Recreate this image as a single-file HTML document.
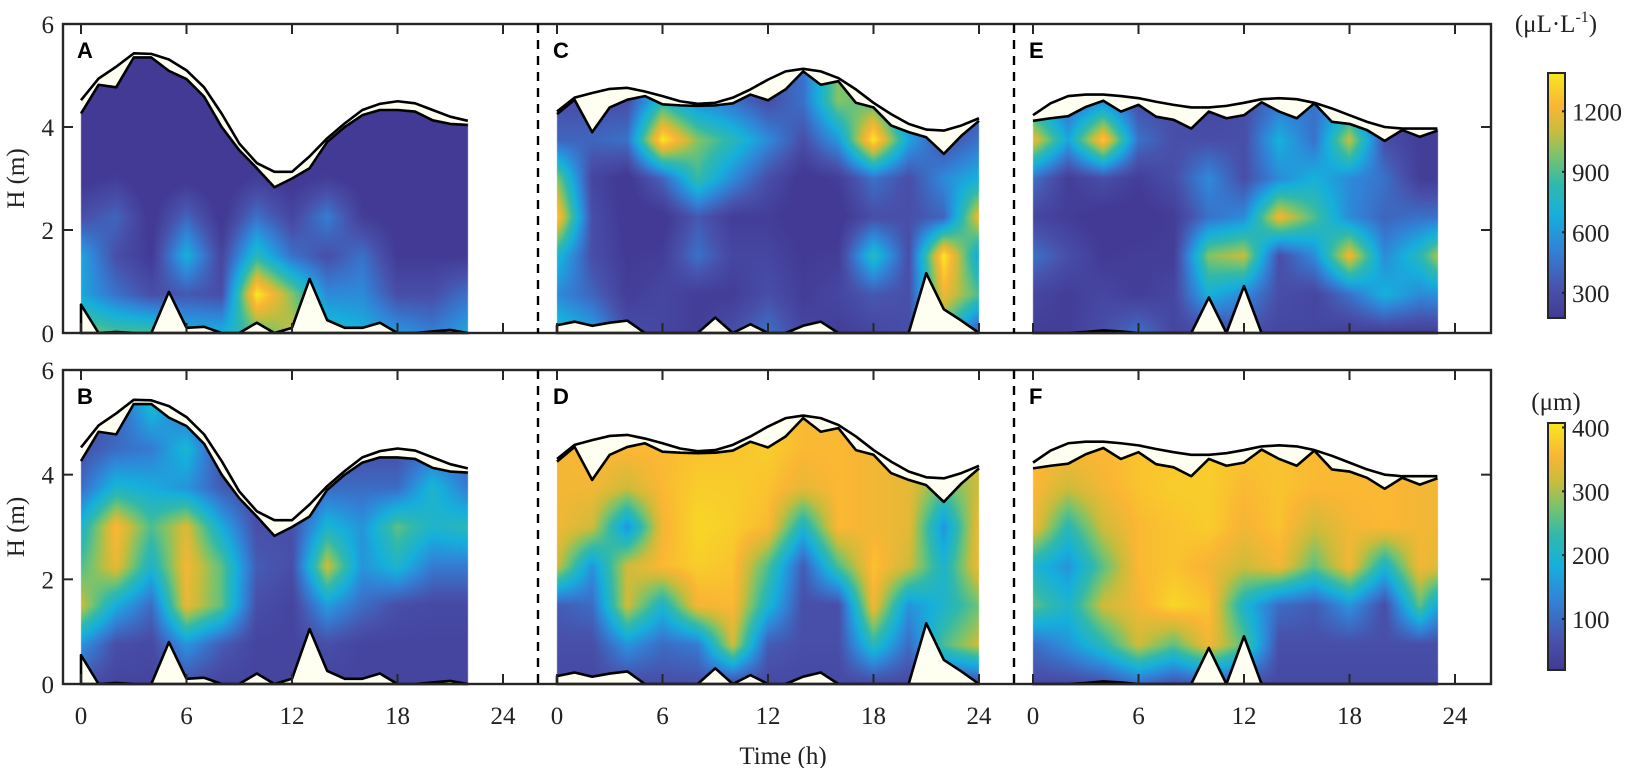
<!DOCTYPE html>
<html><head><meta charset="utf-8">
<style>
html,body{margin:0;padding:0;background:#fff;}
#wrap{position:relative;width:1627px;height:768px;overflow:hidden;}
canvas,svg{position:absolute;left:0;top:0;}
text{font-family:"Liberation Serif",serif;fill:#222;}
</style></head>
<body>
<div id="wrap">
<canvas id="heat" width="1627" height="768"></canvas>
<svg id="ov" width="1627" height="768" xmlns="http://www.w3.org/2000/svg"></svg>
</div>
<script>
// ---------- data ----------
const depthLevels = [0, 0.75, 1.5, 2.25, 3, 3.75, 4.5, 5.25];
const tickHours = [0, 6, 12, 18, 24];
const tickDepths = [0, 2, 4, 6];
const cbTicks1 = [300, 600, 900, 1200];
const cbTicks2 = [100, 200, 300, 400];

const tideA = [4.52,4.94,5.17,5.43,5.42,5.31,5.1,4.77,4.26,3.68,3.3,3.13,3.13,3.43,3.78,4.07,4.33,4.45,4.5,4.46,4.33,4.2,4.12];
const topA  = [4.26,4.82,4.77,5.35,5.35,5.09,4.93,4.59,4.0,3.55,3.2,2.83,3.0,3.2,3.71,4.0,4.23,4.33,4.33,4.3,4.13,4.06,4.04];
const bottomA = [0.55,0,0.02,0,0,0.8,0.1,0.12,0,0,0.2,0,0.1,1.05,0.25,0.1,0.1,0.2,0,0,0.03,0.06,0];

const tideC = [4.3,4.57,4.66,4.74,4.76,4.69,4.6,4.5,4.45,4.47,4.57,4.73,4.92,5.08,5.13,5.08,4.95,4.73,4.47,4.25,4.06,3.95,3.93,4.03,4.17];
const topC  = [4.25,4.53,3.9,4.38,4.53,4.6,4.44,4.42,4.41,4.42,4.46,4.63,4.52,4.73,5.08,4.82,4.89,4.47,4.38,4.03,3.9,3.8,3.48,3.83,4.12];
const bottomC = [0.15,0.22,0.14,0.2,0.24,0,0,0,0,0.3,0,0.17,0,0,0.14,0.22,0,0,0,0,0,1.16,0.46,0.24,0];

const tideE = [4.23,4.46,4.6,4.63,4.63,4.6,4.56,4.49,4.43,4.38,4.38,4.41,4.47,4.54,4.56,4.54,4.47,4.36,4.23,4.1,4.0,3.97,3.97,3.97];
const topE  = [4.12,4.17,4.21,4.39,4.51,4.3,4.43,4.2,4.14,3.97,4.3,4.17,4.23,4.48,4.3,4.17,4.46,4.1,4.06,3.94,3.73,3.94,3.81,3.93];
const bottomE = [0,0,0,0.02,0.05,0.03,0,0,0,0,0.69,0,0.91,0,0,0,0,0,0,0,0,0,0,0];

// concentration (uL/L), rows = depthLevels, cols = every 2 h
const valuesA = [
 [1000,900,900,700,700,900,1100,800,700,600,500,650],
 [650,450,300,350,300,1400,1000,550,550,300,300,450],
 [650,300,180,700,250,800,450,300,450,180,180,180],
 [300,400,150,400,150,450,250,500,200,150,150,150],
 [150,200,120,150,120,200,150,200,150,150,150,150],
 [120,130,120,120,120,130,120,120,120,120,120,120],
 [120,120,120,120,120,120,120,120,120,120,120,120],
 [120,120,120,120,120,120,120,120,120,120,120,120]];
const valuesC = [
 [800,650,300,250,200,300,450,250,200,250,300,900,300],
 [550,400,200,250,200,200,300,200,250,350,300,1200,900],
 [750,300,180,200,450,250,250,180,200,800,300,1400,650],
 [1300,300,150,150,350,200,200,150,150,300,300,400,1200],
 [1000,250,150,400,850,550,300,150,200,450,300,550,700],
 [400,400,450,1400,1000,800,550,300,600,1400,650,300,450],
 [300,300,300,800,550,450,300,450,1000,900,450,300,300],
 [300,300,300,800,550,450,300,450,1000,900,450,300,300]];
const valuesE = [
 [200,200,300,450,250,250,300,250,250,200,200,200,200],
 [250,200,250,200,250,700,550,300,250,450,700,550,600],
 [450,300,180,200,200,1000,1100,300,550,1200,550,800,1300],
 [250,200,150,150,200,450,550,1200,900,550,400,450,450],
 [450,200,300,200,300,550,300,550,700,550,450,200,200],
 [1200,650,1300,450,300,300,300,700,450,1100,300,200,200],
 [650,400,550,300,300,250,300,450,450,550,300,200,200],
 [650,400,550,300,300,250,300,450,450,550,300,200,200]];
// particle size (um)
const valuesB = [
 [60,40,40,60,40,40,40,40,40,40,40,40],
 [150,60,50,150,80,40,40,60,40,40,40,40],
 [320,180,100,340,260,60,40,160,100,60,50,50],
 [250,340,200,350,260,80,60,320,150,200,120,120],
 [200,360,250,330,180,60,60,200,150,260,200,220],
 [100,200,180,150,80,50,50,100,100,100,200,120],
 [60,100,120,200,60,50,50,50,60,60,100,80],
 [50,80,200,100,50,50,50,50,50,50,50,50]];
const valuesD = [
 [50,50,50,60,60,50,50,50,50,50,50,50,50],
 [60,60,150,100,120,320,80,60,60,220,100,250,320],
 [80,100,320,200,350,360,200,60,60,350,150,200,270],
 [320,150,320,360,380,370,250,80,250,370,320,200,350],
 [350,320,150,350,390,380,360,200,360,350,340,150,350],
 [350,350,320,360,380,380,370,340,360,350,340,260,320],
 [350,360,360,360,370,370,380,360,360,350,340,320,320],
 [350,360,360,360,370,370,380,360,360,350,340,320,320]];
const valuesF = [
 [50,50,60,100,60,80,60,50,50,50,50,50,50],
 [100,150,220,320,260,350,260,60,60,60,60,60,60],
 [260,200,320,350,390,370,200,100,80,150,60,260,80],
 [200,150,260,360,370,350,320,350,260,350,200,350,320],
 [350,220,320,360,370,380,350,370,320,350,360,350,350],
 [360,320,350,370,380,380,360,370,360,360,360,350,350],
 [360,360,360,370,370,380,370,370,360,360,360,350,350],
 [360,360,360,370,370,380,370,370,360,360,360,350,350]];

// ---------- layout ----------
const W = 1627, H = 768;
const BOX_L = 63, BOX_R = 1491;
const ROWS = [{top:24, bot:333}, {top:370, bot:684}];
const PANEL_X0 = [81, 557, 1033];
const PXH = 422 / 24;
const DASH_X = [538, 1014];
const RANGE1 = [175, 1390], RANGE2 = [20, 407];

const panels = [
 {label:'A', row:0, col:0, vals:valuesA, tide:tideA, top:topA, bot:bottomA, end:22, range:RANGE1},
 {label:'C', row:0, col:1, vals:valuesC, tide:tideC, top:topC, bot:bottomC, end:24, range:RANGE1},
 {label:'E', row:0, col:2, vals:valuesE, tide:tideE, top:topE, bot:bottomE, end:23, range:RANGE1},
 {label:'B', row:1, col:0, vals:valuesB, tide:tideA, top:topA, bot:bottomA, end:22, range:RANGE2},
 {label:'D', row:1, col:1, vals:valuesD, tide:tideC, top:topC, bot:bottomC, end:24, range:RANGE2},
 {label:'F', row:1, col:2, vals:valuesF, tide:tideE, top:topE, bot:bottomE, end:23, range:RANGE2}];

const cmapStops = [
 [0.00,[66,58,148]],[0.12,[72,82,172]],[0.28,[50,130,215]],[0.42,[22,175,220]],
 [0.55,[50,185,170]],[0.66,[120,195,110]],[0.76,[200,188,60]],[0.87,[250,182,52]],[1.0,[246,232,32]]];
function cmap(t){
  t = Math.max(0, Math.min(1, t));
  for (let i = 1; i < cmapStops.length; i++) {
    if (t <= cmapStops[i][0]) {
      const a = cmapStops[i-1], b = cmapStops[i];
      const f = (t - a[0]) / (b[0] - a[0]);
      return [0,1,2].map(k => a[1][k] + (b[1][k] - a[1][k]) * f);
    }
  }
  return cmapStops[cmapStops.length-1][1];
}
function interp(arr, h){
  const n = arr.length;
  if (h <= 0) return arr[0];
  if (h >= n-1) return arr[n-1];
  const i = Math.floor(h), f = h - i;
  return arr[i] + (arr[i+1] - arr[i]) * f;
}
function gridVal(vals, h, d){
  const nr = vals.length, nc = vals[0].length;
  let c = Math.max(0, Math.min(nc-1, h/2));
  let r = Math.max(0, Math.min(nr-1, d/0.75));
  const c0 = Math.min(nc-2, Math.floor(c)), r0 = Math.min(nr-2, Math.floor(r));
  const fc = c - c0, fr = r - r0;
  const v00 = vals[r0][c0], v01 = vals[r0][c0+1], v10 = vals[r0+1][c0], v11 = vals[r0+1][c0+1];
  return (v00*(1-fc) + v01*fc)*(1-fr) + (v10*(1-fc) + v11*fc)*fr;
}
const xOf = (col, h) => PANEL_X0[col] + h * PXH;
const pm = r => (ROWS[r].bot - ROWS[r].top) / 6;
const yOf = (row, m) => ROWS[row].bot - m * pm(row);

// ---------- heatmaps ----------
const ctx = document.getElementById('heat').getContext('2d');
const img = ctx.createImageData(W, H);
panels.forEach(p => {
  const x0 = PANEL_X0[p.col], xe = x0 + p.end * PXH, ppm = pm(p.row), y0 = ROWS[p.row].bot;
  for (let px = Math.floor(x0); px < Math.ceil(xe); px++) {
    const h = Math.max(0, Math.min(p.end, (px + 0.5 - x0) / PXH));
    const ty = y0 - interp(p.top, h) * ppm, by = y0 - interp(p.bot, h) * ppm;
    for (let py = Math.floor(ty) - 1; py <= Math.ceil(by); py++) {
      const d = (y0 - py - 0.5) / ppm;
      const v = gridVal(p.vals, h, d);
      const c = cmap((v - p.range[0]) / (p.range[1] - p.range[0]));
      const idx = (py * W + px) * 4;
      img.data[idx] = c[0]; img.data[idx+1] = c[1]; img.data[idx+2] = c[2]; img.data[idx+3] = 255;
    }
  }
});
ctx.putImageData(img, 0, 0);

// ---------- overlay ----------
const NS = 'http://www.w3.org/2000/svg';
const svg = document.getElementById('ov');
function mk(tag, attrs, parent){
  const e = document.createElementNS(NS, tag);
  for (const k in attrs) e.setAttribute(k, attrs[k]);
  (parent || svg).appendChild(e);
  return e;
}
const CREAM = '#fefef1';

panels.forEach(p => {
  const g = mk('g', {});
  
  
  const n = p.tide.length;
  let pts = [];
  for (let i = 0; i < n; i++) pts.push(xOf(p.col, i) + ',' + yOf(p.row, p.tide[i]));
  for (let i = n-1; i >= 0; i--) pts.push(xOf(p.col, i) + ',' + yOf(p.row, p.top[i]));
  const s = mk('polygon', {points: pts.join(' '), fill: CREAM, stroke: 'none'}, g);
  
  
  const tl = mk('polyline', {points: pts.slice(0, n).join(' '), fill: 'none', stroke: '#000', 'stroke-width': 2.6, 'stroke-linejoin': 'round'}, g);
  
  
  const dl = mk('polyline', {points: pts.slice(n).join(' '), fill: 'none', stroke: '#000', 'stroke-width': 2.6, 'stroke-linejoin': 'round'}, g);
  
  
  let bp = [xOf(p.col, 0) + ',' + yOf(p.row, 0)];
  for (let i = 0; i < n; i++) bp.push(xOf(p.col, i) + ',' + yOf(p.row, p.bot[i]));
  bp.push(xOf(p.col, n-1) + ',' + yOf(p.row, 0));
  const b = mk('polygon', {points: bp.join(' '), fill: CREAM, stroke: '#000', 'stroke-width': 2.6, 'stroke-linejoin': 'round'}, g);
  
  
  const lab = mk('text', {x: PANEL_X0[p.col] - 4, y: ROWS[p.row].top + 34, 'font-size': 22, 'font-weight': 'bold', style: 'font-family:"Liberation Sans",sans-serif;fill:#000'}, g);
  lab.textContent = p.label;
  
  
});

ROWS.forEach((r, ri) => {
  const box = mk('rect', {x: BOX_L, y: r.top, width: BOX_R - BOX_L, height: r.bot - r.top, fill: 'none', stroke: '#262626', 'stroke-width': 2.4});
  
  
  DASH_X.forEach(x => {
    const l = mk('line', {x1: x, x2: x, y1: r.top, y2: r.bot, stroke: '#000', 'stroke-width': 2.4, 'stroke-dasharray': '9,7'});
    
    
  });
  [0,1,2].forEach(c => {
    tickHours.forEach(h => {
      const x = xOf(c, h);
      const t1 = mk('line', {x1: x, x2: x, y1: r.bot, y2: r.bot - 10, stroke: '#262626', 'stroke-width': 2});
      
      
      const t2 = mk('line', {x1: x, x2: x, y1: r.top, y2: r.top + 10, stroke: '#262626', 'stroke-width': 2});
      
      
      if (ri === 1) {
        const t = mk('text', {x: x, y: r.bot + 40, 'font-size': 25, 'text-anchor': 'middle'});
        t.textContent = h;
        
        
      }
    });
  });
  tickDepths.forEach(m => {
    const y = yOf(ri, m);
    const a = mk('line', {x1: BOX_L, x2: BOX_L + 10, y1: y, y2: y, stroke: '#262626', 'stroke-width': 2});
    
    
    const b = mk('line', {x1: BOX_R, x2: BOX_R - 10, y1: y, y2: y, stroke: '#262626', 'stroke-width': 2});
    
    
    const t = mk('text', {x: 54, y: y + 9, 'font-size': 25, 'text-anchor': 'end'});
    t.textContent = m;
    
    
  });
  const yc = (r.top + r.bot) / 2;
  const yt = mk('text', {x: 0, y: 0, 'font-size': 25, 'text-anchor': 'middle', transform: 'translate(24,' + yc + ') rotate(-90)'});
  yt.textContent = 'H (m)';
  
  
});
const xt = mk('text', {x: 783, y: 764, 'font-size': 25, 'text-anchor': 'middle'});
xt.textContent = 'Time (h)';



// colorbars
const defs = mk('defs', {});
const grad = mk('linearGradient', {id: 'cbg', x1: 0, y1: 1, x2: 0, y2: 0}, defs);
cmapStops.forEach(s => mk('stop', {offset: s[0], 'stop-color': 'rgb(' + s[1].join(',') + ')'}, grad));
function colorbar(top, bot, range, ticks, name, titleY, titleHtml){
  const r = mk('rect', {x: 1548, y: top, width: 17, height: bot - top, fill: 'url(#cbg)', stroke: '#262626', 'stroke-width': 2});
  
  
  ticks.forEach(v => {
    const y = bot - (v - range[0]) / (range[1] - range[0]) * (bot - top);
    const tk = mk('line', {x1: 1562, x2: 1565, y1: y, y2: y, stroke: '#222', 'stroke-width': 2});
    
    
    const t = mk('text', {x: 1572, y: y + 9, 'font-size': 25});
    t.textContent = v;
    
    
  });
  const tt = mk('text', {x: 1556, y: titleY, 'font-size': 25, 'text-anchor': 'middle'});
  tt.innerHTML = titleHtml;
  
  
}
colorbar(73, 318, RANGE1, cbTicks1, 'concentration-colorbar', 32, '(μL·L<tspan dy="-10" font-size="16">-1</tspan><tspan dy="10">)</tspan>');
colorbar(423, 670, RANGE2, cbTicks2, 'size-colorbar', 410, '(μm)');
</script>
</body></html>
